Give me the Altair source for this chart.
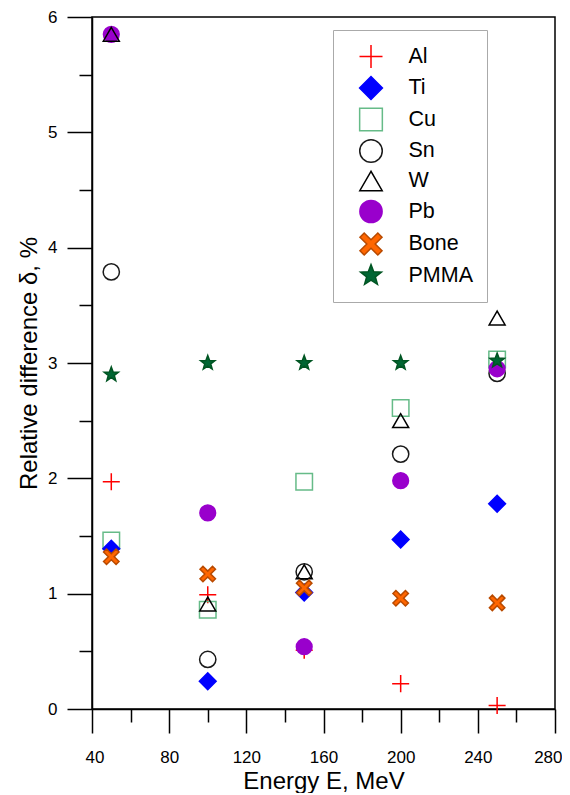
import math
import altair as alt
import pandas as pd

# ---- data ----
energy = [50, 100, 150, 200, 250]
series_names = ["Al", "Ti", "Cu", "Sn", "W", "Pb", "Bone", "PMMA"]
al = [1.97, 0.99, 0.51, 0.22, 0.03]
ti = [1.39, 0.24, 1.01, 1.47, 1.78]
cu = [1.46, 0.86, 1.97, 2.61, 3.03]
sn = [3.79, 0.43, 1.19, 2.21, 2.91]
w = [5.85, 0.91, 1.19, 2.50, 3.39]
pb = [5.85, 1.70, 0.54, 1.98, 2.95]
bone = [1.32, 1.17, 1.05, 0.96, 0.92]
pmma = [2.90, 3.00, 3.00, 3.00, 3.02]

x_major = [40, 80, 120, 160, 200, 240, 280]
x_minor = [60, 100, 140, 180, 220, 260]
y_major = [0, 1, 2, 3, 4, 5, 6]
y_minor = [0.5, 1.5, 2.5, 3.5, 4.5, 5.5]

values = [al, ti, cu, sn, w, pb, bone, pmma]
# drawing order (bottom -> top)
draw_rank = {"Al": 0, "Cu": 1, "Sn": 2, "Pb": 3, "W": 4, "Ti": 5, "Bone": 6, "PMMA": 7}

rows = []
for name, vals in zip(series_names, values):
    for e, v in zip(energy, vals):
        rows.append({"E": e, "delta": v, "series": name, "rank": draw_rank[name]})
df = pd.DataFrame(rows)

# ---- symbol shapes ----
def poly(pts):
    return "M" + "L".join(f"{x:.3f},{y:.3f}" for x, y in pts) + "Z"

star_pts = []
for k in range(10):
    ang = math.radians(-90 + 36 * k)
    r = 1.0 if k % 2 == 0 else 0.42
    star_pts.append((r * math.cos(ang), r * math.sin(ang)))
star_path = poly(star_pts)

a = 0.27
L = math.sqrt(2) - a
plus_pts = [(a, -L), (a, -a), (L, -a), (L, a), (a, a), (a, L), (-a, L), (-a, a),
            (-L, a), (-L, -a), (-a, -a), (-a, -L)]
c = math.cos(math.radians(45))
x_pts = [(px * c - py * c, px * c + py * c) for px, py in plus_pts]
x_path = poly(x_pts)
thin_plus = "M-1,0L1,0M0,-1L0,1"

shapes = [thin_plus, "diamond", "square", "circle", "triangle-up", "circle", x_path, star_path]
fills = ["transparent", "#0000ff", "transparent", "transparent", "transparent",
         "#9900cc", "#ff6600", "#006633"]
strokes = ["#ff0000", "#0000ff", "#66bb88", "#1a1a1a", "#000000",
           "#9900cc", "#b84a00", "#005522"]
plot_sizes = [290, 230, 190, 270, 160, 270, 440, 420]
legend_sizes = [529, 480, 500, 500, 400, 529, 529, 484]

FONT = "Liberation Sans"

x_scale = alt.Scale(domain=[40, 280], nice=False, zero=False)
y_scale = alt.Scale(domain=[0, 6], nice=False, zero=False)

x_major_ax = alt.Axis(values=x_major, tickSize=24, labelPadding=16, format="d",
                      labelFlush=True, labelFlushOffset=7,
                      title="Energy E, MeV", titlePadding=4, orient="bottom")
y_major_ax = alt.Axis(values=y_major, tickSize=25, labelPadding=10, format="d", labelFlush=False,
                      title="Relative difference δ, %", titlePadding=6, orient="left")
x_minor_ax = alt.Axis(values=x_minor, tickSize=13, labels=False, domain=False,
                      title=None, orient="bottom")
y_minor_ax = alt.Axis(values=y_minor, tickSize=13, labels=False, domain=False,
                      title=None, orient="left")

points = alt.Chart(df).mark_point(opacity=1, strokeWidth=1.5).encode(
    x=alt.X("E:Q", scale=x_scale, axis=x_major_ax),
    y=alt.Y("delta:Q", scale=y_scale, axis=y_major_ax),
    shape=alt.Shape("series:N", scale=alt.Scale(domain=series_names, range=shapes), legend=None),
    fill=alt.Fill("series:N", scale=alt.Scale(domain=series_names, range=fills), legend=None),
    stroke=alt.Stroke("series:N", scale=alt.Scale(domain=series_names, range=strokes), legend=None),
    size=alt.Size("series:N", scale=alt.Scale(domain=series_names, range=plot_sizes), legend=None),
    order=alt.Order("rank:Q"),
)

leg = alt.Legend(
    title=None,
    orient="none",
    legendX=241,
    legendY=13,
    padding=14,
    symbolOffset=11.5,
    labelOffset=25,
    rowPadding=2.5,
    strokeColor="#aaaaaa",
    fillColor="white",
    labelFont=FONT,
    labelFontSize=21.5,
    labelColor="black",
    symbolStrokeWidth=1.5,
    symbolOpacity=1,
)

legend_layer = alt.Chart(df).transform_filter("false").mark_point(opacity=1, strokeWidth=1.5).encode(
    x=alt.X("E:Q", scale=x_scale, axis=x_minor_ax),
    y=alt.Y("delta:Q", scale=y_scale, axis=y_minor_ax),
    shape=alt.Shape("series:N", scale=alt.Scale(domain=series_names, range=shapes), legend=leg),
    fill=alt.Fill("series:N", scale=alt.Scale(domain=series_names, range=fills), legend=leg),
    stroke=alt.Stroke("series:N", scale=alt.Scale(domain=series_names, range=strokes), legend=leg),
    size=alt.Size("series:N", scale=alt.Scale(domain=series_names, range=legend_sizes), legend=leg),
)

chart = alt.layer(points, legend_layer).resolve_scale(
    shape="independent", fill="independent", stroke="independent", size="independent"
).resolve_axis(
    x="independent", y="independent"
).properties(
    width=463,
    height=692,
    autosize=alt.AutoSizeParams(type="none"),
    padding={"left": 84, "top": 9, "right": 7, "bottom": 84},
).configure_view(
    stroke="black", strokeWidth=1.5
).configure_axis(
    grid=False,
    domainColor="black",
    domainWidth=1.5,
    tickColor="black",
    tickWidth=1.5,
    labelFont=FONT,
    labelFontSize=17,
    labelColor="black",
    titleFont=FONT,
    titleFontSize=24,
    titleFontWeight="normal",
    titleColor="black",
)

chart.save("out.html", embed_options={"renderer": "svg", "actions": False})
